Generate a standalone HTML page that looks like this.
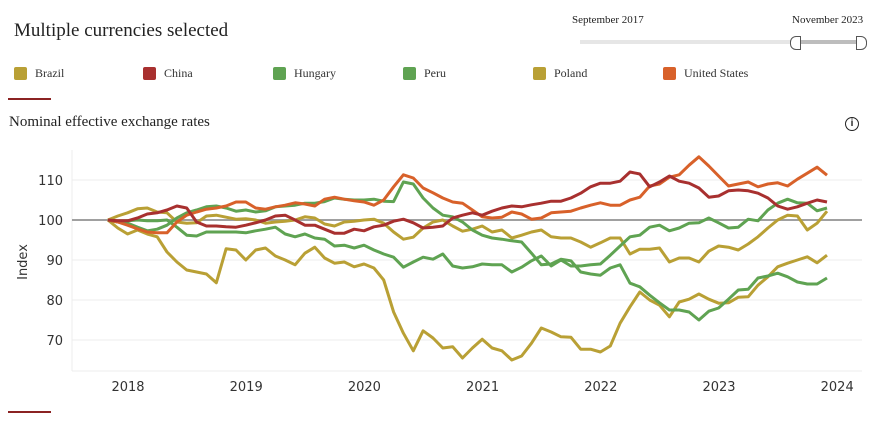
<!DOCTYPE html>
<html><head><meta charset="utf-8">
<style>
body{margin:0;width:872px;height:425px;background:#fff;font-family:"Liberation Serif",serif;position:relative;overflow:hidden}
.abs{position:absolute}
.leg{position:absolute;top:66px;font-size:12px;color:#333;display:flex;align-items:center}
.leg span.sw{width:13px;height:13px;border-radius:2px;display:inline-block;margin-right:8px}
</style></head><body>
<div class="abs" style="left:14px;top:20px;font-size:19px;color:#222">Multiple currencies selected</div>
<div class="abs" style="left:572px;top:14px;font-size:11px;color:#222">September 2017</div>
<div class="abs" style="left:792px;top:14px;font-size:11px;color:#222">November 2023</div>
<div class="abs" style="left:580px;top:40px;width:282px;height:4px;background:#e6e6e6"></div>
<div class="abs" style="left:795px;top:40px;width:67px;height:4px;background:#bdbdbd"></div>
<div class="abs" style="left:790px;top:36px;width:9px;height:12px;border:1px solid #555;border-radius:6px 0 0 6px;background:#fff"></div>
<div class="abs" style="left:856px;top:36px;width:9px;height:12px;border:1px solid #555;border-radius:0 6px 6px 0;background:#fff"></div>

<div class="leg" style="left:14px"><span class="sw" style="background:#b9a035"></span>Brazil</div>
<div class="leg" style="left:143px"><span class="sw" style="background:#a8302f"></span>China</div>
<div class="leg" style="left:273px"><span class="sw" style="background:#5fa352"></span>Hungary</div>
<div class="leg" style="left:403px"><span class="sw" style="background:#5fa352"></span>Peru</div>
<div class="leg" style="left:533px"><span class="sw" style="background:#b9a035"></span>Poland</div>
<div class="leg" style="left:663px"><span class="sw" style="background:#d8612a"></span>United States</div>

<div class="abs" style="left:8px;top:98px;width:43px;height:2px;background:#8b2323"></div>
<div class="abs" style="left:9px;top:114px;font-size:15px;color:#222">Nominal effective exchange rates</div>
<div class="abs" style="left:845px;top:117px;width:12px;height:12px;border:1.5px solid #222;border-radius:50%;font:bold 10px 'Liberation Sans',sans-serif;text-align:center;line-height:12px;color:#222">i</div>
<div class="abs" style="left:8px;top:411px;width:43px;height:2px;background:#8b2323"></div>

<svg class="abs" style="left:0;top:0" width="872" height="425" id="chart"></svg>
<script>
const yTicks=[70,80,90,100,110];
const xTickLabels=["2018","2019","2020","2021","2022","2023","2024"];
const startYear=2017.83;
const brazil=[100,98,96.5,97.5,96.5,95.8,92,89.5,87.5,87,86.5,84.3,92.8,92.5,90,92.5,93,91,90,88.8,91.7,93.2,90.5,89.2,89.5,88.3,89,88,85,77,71.7,67.3,72.3,70.5,68,68.3,65.5,68,70.2,68,67.3,65,66,69.2,73,72,70.8,70.7,67.7,67.7,67,68.5,74.2,78.3,82,80,78.7,75.8,79.5,80.2,81.5,80.2,79.2,79.3,80.7,80.8,83.7,85.8,88.3,89.2,90,90.8,89.3,91.2];
const poland=[100,101,101.8,102.8,103,102,101.8,99.5,99.2,99.3,101,101.2,100.7,100.2,100.3,100,99.2,99.5,99.7,100,100.8,100.5,99,98.5,99.5,99.7,100,100.2,99.2,97,95.2,95.7,98,99.5,100,98.5,97.2,97.7,98.5,97,97.5,95.5,96.2,97,97.5,95.8,95.5,95.5,94.5,93.2,94.3,95.5,95.5,91.5,92.7,92.7,93,89.5,90.5,90.5,89.5,92.2,93.5,93.2,92.5,94,95.8,98,100,101.2,101,97.5,99.2,102.2];
const unitedStates=[100,99.5,98.7,97.8,97,96.8,96.8,99.5,101.2,102,102.7,103,103.5,104.5,104.5,103,102.7,103.3,103.7,104.3,104,103.5,105.2,105.7,105.2,104.8,104.5,103.7,105,108.3,111.3,110.5,108,106.8,105.5,104.5,104.2,102.5,100.8,100.5,100.7,102,101.5,100.2,100.5,101.8,102,102.2,103,103.7,104.3,103.7,103.7,105,105.7,108.5,109,110.7,111.3,113.7,115.8,113.5,111,108.5,109,109.5,108.3,109,109.3,108.5,110.2,111.7,113.2,111.2];
const china=[100,99.8,99.8,100.5,101.5,101.8,102.5,103.5,103,99.5,98.5,98.5,98.3,98.2,98.7,99.3,100,101,101.2,100,98.7,98.7,97.7,96.7,96.7,97.7,97.3,98.3,98.7,99.7,100.2,99.3,98,98.2,98.5,100.5,101.2,101.8,101.2,102.2,103,103.5,103.3,103.8,104.2,104.7,104.7,105.5,106.7,108.3,109.2,109.2,109.7,112,111.5,108.3,109.5,111,109.7,109.2,108,105.7,106,107.3,107.5,107.3,106.7,105.5,103.5,102.7,103.3,104.2,105,104.5];
const peru=[100,99.5,99.2,98.2,97.3,97.7,98.7,100.5,101.8,102.5,103.3,103.5,103,102.2,102.5,102,102.3,103.3,103.5,103.7,104.2,104.2,104.6,105.5,105.2,105,105,105.2,104.7,104.6,109.5,109,105.5,103,101.2,100.8,99.5,97.5,96.2,95.5,95.2,94.8,94.5,91.7,88.8,89,90.2,89.8,87,86.5,86.2,88,88.8,84.2,83.3,81.2,79.3,77.5,77.5,77,75,77.2,78,80.2,82.5,82.7,85.5,86,86.7,85.8,84.5,84,84,85.5];
const hungary=[100,99.5,99.8,100,99.8,99.8,100,98.2,96.2,96,97,97,97,97,96.8,97.3,97.7,98.2,96.5,95.8,96.5,95.5,95.2,93.5,93.7,93,93.7,92.5,91.5,90.7,88.2,89.5,90.7,90.2,91.5,88.5,88,88.3,89,88.8,88.8,87,88.2,89.8,91,88.5,90,88.5,88.5,88.8,89,91.2,93.5,95.8,96.2,98.2,98.7,97.3,98,99.2,99.3,100.5,99.3,98,98.2,100.2,99.8,102.5,104.2,105.2,104.3,104.2,102.3,103];

const svg=document.getElementById('chart');
const NS='http://www.w3.org/2000/svg';
const X=t=>128+(t-2018)*118.2;
const Y=v=>220-(v-100)*4;
const F='DejaVu Sans, sans-serif';
function mk(tag,attrs){const e=document.createElementNS(NS,tag);for(const k in attrs)e.setAttribute(k,attrs[k]);svg.appendChild(e);return e;}
yTicks.forEach(v=>{
  if(v!==100){const g=mk('line',{x1:72,x2:862,y1:Y(v),y2:Y(v),stroke:'#ececec','stroke-width':1});
  
  }
  const t=mk('text',{x:63,y:Y(v)+5,'text-anchor':'end','font-size':13,fill:'#333','font-family':F});
  t.textContent=v;
  
  
});
const ax=mk('line',{x1:72,x2:72,y1:150,y2:371,stroke:'#ececec'});


const bx=mk('line',{x1:72,x2:862,y1:371,y2:371,stroke:'#ececec'});


xTickLabels.forEach(l=>{
  const t=mk('text',{x:X(+l),y:391,'text-anchor':'middle','font-size':13,fill:'#333','font-family':F});
  t.textContent=l;
  
  
});
const yt=mk('text',{x:0,y:0,transform:'translate(27,262) rotate(-90)','text-anchor':'middle','font-size':13,fill:'#333','font-family':F});
yt.textContent='Index';


const base=mk('line',{x1:72,x2:862,y1:Y(100),y2:Y(100),stroke:'#a0a0a0','stroke-width':2});


const series=[['poland',poland,'#b9a035'],['brazil',brazil,'#b9a035'],['hungary',hungary,'#5fa352'],['peru',peru,'#5fa352'],['united-states',unitedStates,'#d8612a'],['china',china,'#a8302f']];
series.forEach(([n,d,c])=>{
  const pts=d.map((v,i)=>X(startYear+i/12).toFixed(1)+','+Y(v).toFixed(1)).join(' ');
  const p=mk('polyline',{points:pts,fill:'none',stroke:c,'stroke-width':3,'stroke-linejoin':'round'});
  
  
});
</script>
</body></html>
